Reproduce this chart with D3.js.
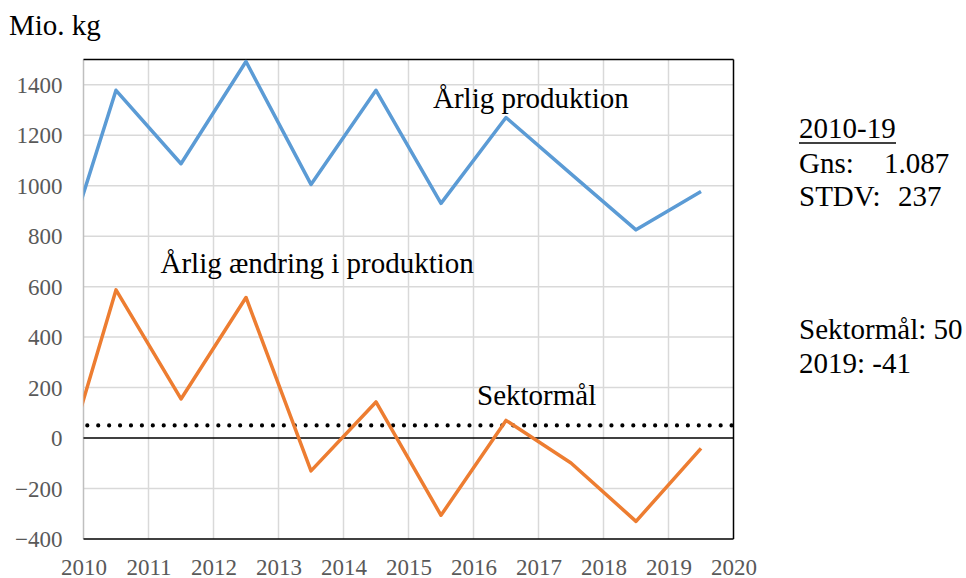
<!DOCTYPE html>
<html>
<head>
<meta charset="utf-8">
<script src="https://cdn.jsdelivr.net/npm/d3@7"></script>
<style>
  html, body { margin: 0; padding: 0; background: #fff; }
  svg { display: block; }
</style>
</head>
<body>
<svg id="chart" width="966" height="578"></svg>
<script>
// ---- data ----
const years = [2009, 2010, 2011, 2012, 2013, 2014, 2015, 2016, 2017, 2018, 2019];
const production = [562, 1378, 1087, 1492, 1005, 1378, 930, 1270, 1047, 825, 977];
const change = [-283, 587, 155, 557, -130, 143, -306, 70, -99, -330, -41];
const targetValue = 50;
const xTicks = [2010, 2011, 2012, 2013, 2014, 2015, 2016, 2017, 2018, 2019, 2020];
const yTicks = [-400, -200, 0, 200, 400, 600, 800, 1000, 1200, 1400];
const sideTexts = {
  period: "2010-19",
  gnsLabel: "Gns:", gnsValue: "1.087",
  stdvLabel: "STDV:", stdvValue: "237",
  goal: "Sektormål: 50",
  last: "2019: -41"
};

// ---- layout ----
const FONT = '"Liberation Serif"';
const svg = d3.select("#chart").style("font-family", FONT);
const pL = 83.5, pR = 733.5, pT = 59.5, pB = 539;
const x = d3.scaleLinear().domain([2010, 2020]).range([pL, pR]);
const y = d3.scaleLinear().domain([-400, 1500]).range([pB, pT]);

const gridColor = "#d9d9d9";
const tickColor = "#595959";

// clip
svg.append("clipPath").attr("id", "plotclip")
  .append("rect").attr("x", pL).attr("y", pT - 3)
  .attr("width", pR - pL).attr("height", pB - pT + 6);

// grid lines
const grid = svg.append("g");
grid.selectAll("line.h").data(yTicks.filter(v => v !== 0 && v !== -400)).enter()
  .append("line")
  .attr("x1", pL).attr("x2", pR)
  .attr("y1", d => y(d)).attr("y2", d => y(d))
  .attr("stroke", gridColor).attr("stroke-width", 1.5);
grid.selectAll("line.v").data(xTicks.slice(1, -1)).enter()
  .append("line")
  .attr("x1", d => x(d)).attr("x2", d => x(d))
  .attr("y1", pT).attr("y2", pB)
  .attr("stroke", gridColor).attr("stroke-width", 1.5);

// borders
svg.append("line").attr("x1", pL).attr("x2", pL).attr("y1", pT).attr("y2", pB)
  .attr("stroke", "#bfbfbf").attr("stroke-width", 1.5);
svg.append("line").attr("x1", pL).attr("x2", pR).attr("y1", pT).attr("y2", pT)
  .attr("stroke", "#000").attr("stroke-width", 1.5);
svg.append("line").attr("x1", pR).attr("x2", pR).attr("y1", pT).attr("y2", pB)
  .attr("stroke", "#000").attr("stroke-width", 1.5);
svg.append("line").attr("x1", pL).attr("x2", pR).attr("y1", pB).attr("y2", pB)
  .attr("stroke", "#000").attr("stroke-width", 1.5);
// zero line
svg.append("line").attr("x1", pL).attr("x2", pR).attr("y1", y(0)).attr("y2", y(0))
  .attr("stroke", "#000").attr("stroke-width", 1.5);

// axes (labels only)
const yAxis = d3.axisLeft(y).tickValues(yTicks).tickSize(0).tickPadding(21).tickFormat(d3.format("d"));
const gy = svg.append("g").attr("transform", `translate(${pL},0)`).call(yAxis);
gy.select(".domain").remove();
gy.attr("font-family", null).attr("font-size", null);
gy.selectAll("text").attr("fill", tickColor).style("font-size", "23px")
  .style("font-family", FONT).attr("dy", "0.33em");

const xAxis = d3.axisBottom(x).tickValues(xTicks).tickSize(0).tickPadding(0).tickFormat(d3.format("d"));
const gx = svg.append("g").attr("transform", `translate(0,${pB})`).call(xAxis);
gx.select(".domain").remove();
gx.attr("font-family", null).attr("font-size", null);
gx.selectAll("text").attr("fill", tickColor).style("font-size", "23px")
  .style("font-family", FONT).attr("y", 35.5).attr("dy", 0);

// target dotted line
svg.append("line")
  .attr("x1", pL + 3.8).attr("x2", pR)
  .attr("y1", y(targetValue)).attr("y2", y(targetValue))
  .attr("stroke", "#000").attr("stroke-width", 4.2)
  .attr("stroke-linecap", "round").attr("stroke-dasharray", "0 10.92");

// series
const line = d3.line().x((d, i) => x(years[i] + 0.5)).y(d => y(d));
const plot = svg.append("g").attr("clip-path", "url(#plotclip)");
plot.append("path").datum(change)
  .attr("d", line).attr("fill", "none").attr("stroke", "#ED7D31")
  .attr("stroke-width", 3.5).attr("stroke-linejoin", "round");
plot.append("path").datum(production)
  .attr("d", line).attr("fill", "none").attr("stroke", "#5B9BD5")
  .attr("stroke-width", 3.5).attr("stroke-linejoin", "round");

// annotations
const ann = (t, xx, yy, size) => svg.append("text").attr("x", xx).attr("y", yy)
  .attr("fill", "#000").style("font-family", FONT)
  .style("font-size", (size || 29) + "px").text(t);
ann("Mio. kg", 9, 35, 29);
ann("Årlig produktion", 433, 108);
ann("Årlig ændring i produktion", 160.5, 273);
ann("Sektormål", 477, 405);

// side texts
ann(sideTexts.period, 799, 138);
svg.append("line").attr("x1", 799).attr("x2", 896).attr("y1", 143).attr("y2", 143)
  .attr("stroke", "#000").attr("stroke-width", 1.3);
ann(sideTexts.gnsLabel, 799, 172.5);
ann(sideTexts.gnsValue, 884, 172.5);
ann(sideTexts.stdvLabel, 799, 206);
ann(sideTexts.stdvValue, 898, 206);
ann(sideTexts.goal, 799, 339);
ann(sideTexts.last, 799, 372.5);
</script>
</body>
</html>
